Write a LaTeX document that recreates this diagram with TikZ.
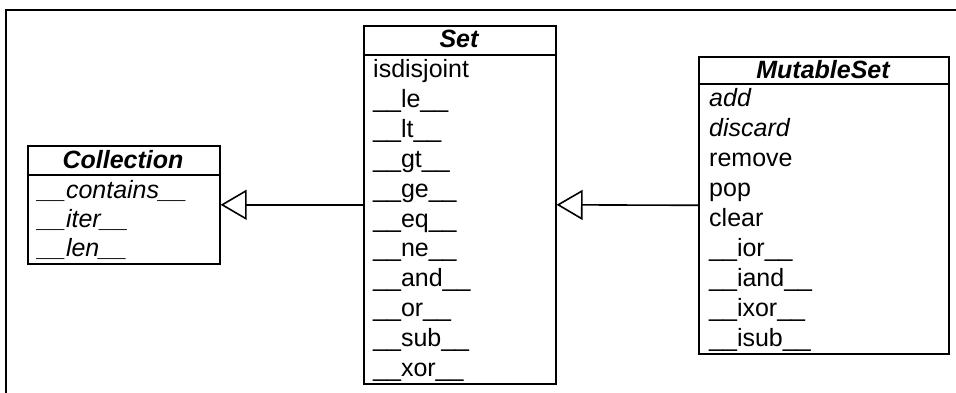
\documentclass[tikz,border=0pt]{standalone}
\usepackage{fontspec}
\setmainfont{Liberation Sans}
\usetikzlibrary{arrows.meta}
\begin{document}
\begin{tikzpicture}[x=1pt,y=-1pt,
  umlbox/.style={draw, line width=1.6pt, anchor=north west, inner sep=0pt},
  sepline/.style={line width=1.6pt},
  rowtext/.style={anchor=base west, inner sep=0pt, font=\fontsize{25}{30}\selectfont},
  hdr/.style={anchor=base, inner sep=0pt, font=\fontsize{25}{30}\selectfont\bfseries\itshape},
  inherit/.style={line width=1.6pt, -{Triangle[open, length=26pt, width=30pt, fill=white]}},
  framestyle/.style={line width=1.2pt}]
\useasboundingbox (0,0) rectangle (956,393);
% frame
\coordinate (f1) at (6,393);
\coordinate (f2) at (6,10);
\coordinate (f3) at (956,10);
\draw[framestyle] (f1) -- (f2) -- (f3);

% Collection
\node[umlbox, minimum width=192pt, minimum height=118pt] (coll) at (27,145) {};
\draw[sepline] (coll.north west) ++(0,30) -- ++(192,0);
\node[hdr] (collhdr) at (123,168) {Collection};
\foreach \t [count=\i from 0] in {\_\_contains\_\_, \_\_iter\_\_, \_\_len\_\_}
  \node[rowtext, font=\fontsize{25}{30}\selectfont\itshape] (coll-\i) at (38,{175+23+\i*29.33}) {\t};

% Set
\node[umlbox, minimum width=192pt, minimum height=358pt] (set) at (363,25) {};
\draw[sepline] (set.north west) ++(0,30) -- ++(192,0);
\node[hdr] (sethdr) at (459,48) {Set};
\foreach \t [count=\i from 0] in {isdisjoint, \_\_le\_\_, \_\_lt\_\_, \_\_gt\_\_, \_\_ge\_\_, \_\_eq\_\_, \_\_ne\_\_, \_\_and\_\_, \_\_or\_\_, \_\_sub\_\_, \_\_xor\_\_}
  \node[rowtext] (set-\i) at (373,{55+23+\i*29.82}) {\t};

% MutableSet
\node[umlbox, minimum width=250pt, minimum height=297pt] (mset) at (698,56) {};
\draw[sepline] (mset.north west) ++(0,28) -- ++(250,0);
\node[hdr] (msethdr) at (823,79) {MutableSet};
\foreach \t [count=\i from 0] in {\textit{add}, \textit{discard}, remove, pop, clear, \_\_ior\_\_, \_\_iand\_\_, \_\_ixor\_\_, \_\_isub\_\_}
  \node[rowtext] (mset-\i) at (709,{84+23+\i*29.9}) {\t};

% inheritance
\draw[inherit] (set.west) -- (coll.east);
\draw[inherit] (mset.west) -- (set.east);
\end{tikzpicture}
\end{document}
